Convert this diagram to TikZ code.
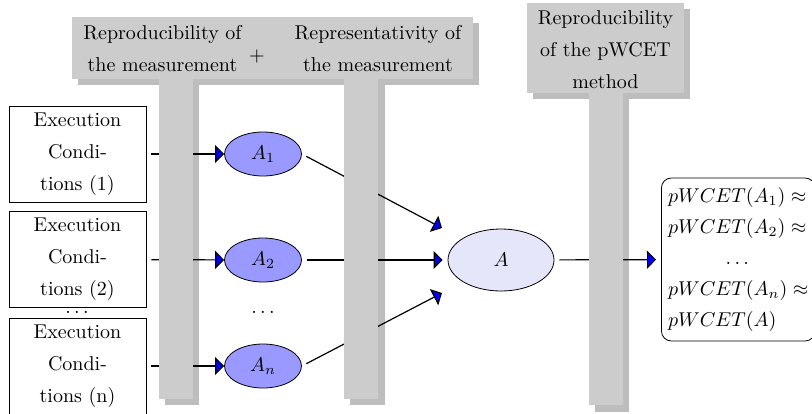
\documentclass[tikz,border=0pt]{standalone}
\usetikzlibrary{arrows.meta,shapes.geometric}
\definecolor{barfill}{gray}{0.8}
\definecolor{barshadow}{gray}{0.74}
\definecolor{aifill}{RGB}{153,153,255}
\definecolor{afill}{RGB}{230,230,250}
\begin{document}
\begin{tikzpicture}[x=0.5pt,y=-0.5pt,
  ecbox/.style={draw, rectangle, minimum width=68.5pt, minimum height=48pt, inner sep=0pt, align=center, font=\fontsize{10}{16}\selectfont},
  aell/.style={draw, ellipse, fill=aifill, minimum width=38.5pt, minimum height=22pt, inner sep=0pt},
  bigell/.style={draw, ellipse, fill=afill, minimum width=53pt, minimum height=31pt, inner sep=0pt},
  con/.style={draw=black, line width=0.6pt, shorten <=2.5pt, -{Triangle[length=4.5pt,width=9pt,fill=blue]}},
  lbl/.style={align=center, font=\fontsize{10}{16}\selectfont, inner sep=0pt},
  resbox/.style={draw, rounded corners=5pt, anchor=west, align=left, minimum height=81.5pt, font=\fontsize{10}{15.5}\selectfont}
]
\useasboundingbox (0,0) rectangle (812,413);
\clip (0,0) rectangle (812,413);

% nodes
\node[ecbox] (EC1) at (77.5,154) {Execution\\Condi-\\tions (1)};
\node[ecbox] (EC2) at (77.5,259.5) {Execution\\Condi-\\tions (2)};
\node[ecbox] (EC3) at (77.5,366) {Execution\\Condi-\\tions (n)};
\node[inner sep=0pt] (dotsL) at (77,312) {$\dots$};

\node[aell] (A1) at (263,154) {$A_1$};
\node[aell] (A2) at (263,260) {$A_2$};
\node[aell] (An) at (263,366) {$A_n$};
\node[inner sep=0pt] (dotsM) at (263,312) {$\dots$};

\node[bigell] (A) at (501,260) {$A$};

\node[resbox] (R) at (661,259.5) {$pWCET(A_1)\approx$\\$pWCET(A_2)\approx$\\\hspace*{\fill}$\dots$\hspace*{\fill}\mbox{}\\$pWCET(A_n)\approx$\\$pWCET(A)$};

\coordinate (tA1) at (442,228);
\coordinate (tAn) at (442,293);

% shadows
\fill[barshadow] (78,23) rectangle (479,85);
\fill[barshadow] (165,85) rectangle (199,405);
\fill[barshadow] (350,85) rectangle (385,405);
\fill[barshadow] (533,9) rectangle (690,99);
\fill[barshadow] (595,99) rectangle (629,412);

% connectors
\draw[con] (EC1) -- (A1);
\draw[con] (EC2) -- (A2);
\draw[con] (EC3) -- (An);
\draw[con] (A1.east) -- (tA1);
\draw[con, shorten >=2.5pt] (A2) -- (A);
\draw[con] (An.east) -- (tAn);
\draw[con, shorten >=2.5pt] (A) -- (R);

% bars
\fill[barfill] (72,17) rectangle (473,79);
\fill[barfill] (159,79) rectangle (193,399);
\fill[barfill] (344,79) rectangle (378,399);
\fill[barfill] (527,3) rectangle (684,93);
\fill[barfill] (589,93) rectangle (623,405);

% labels
\node[lbl] (T1) at (162.5,49) {Reproducibility of\\the measurement};
\node[inner sep=0pt] (plus) at (257,56) {$+$};
\node[lbl] (T2) at (378,49) {Representativity of\\the measurement};
\node[lbl] (T3) at (605.5,49.5) {Reproducibility\\of the pWCET\\method};
\end{tikzpicture}
\end{document}
